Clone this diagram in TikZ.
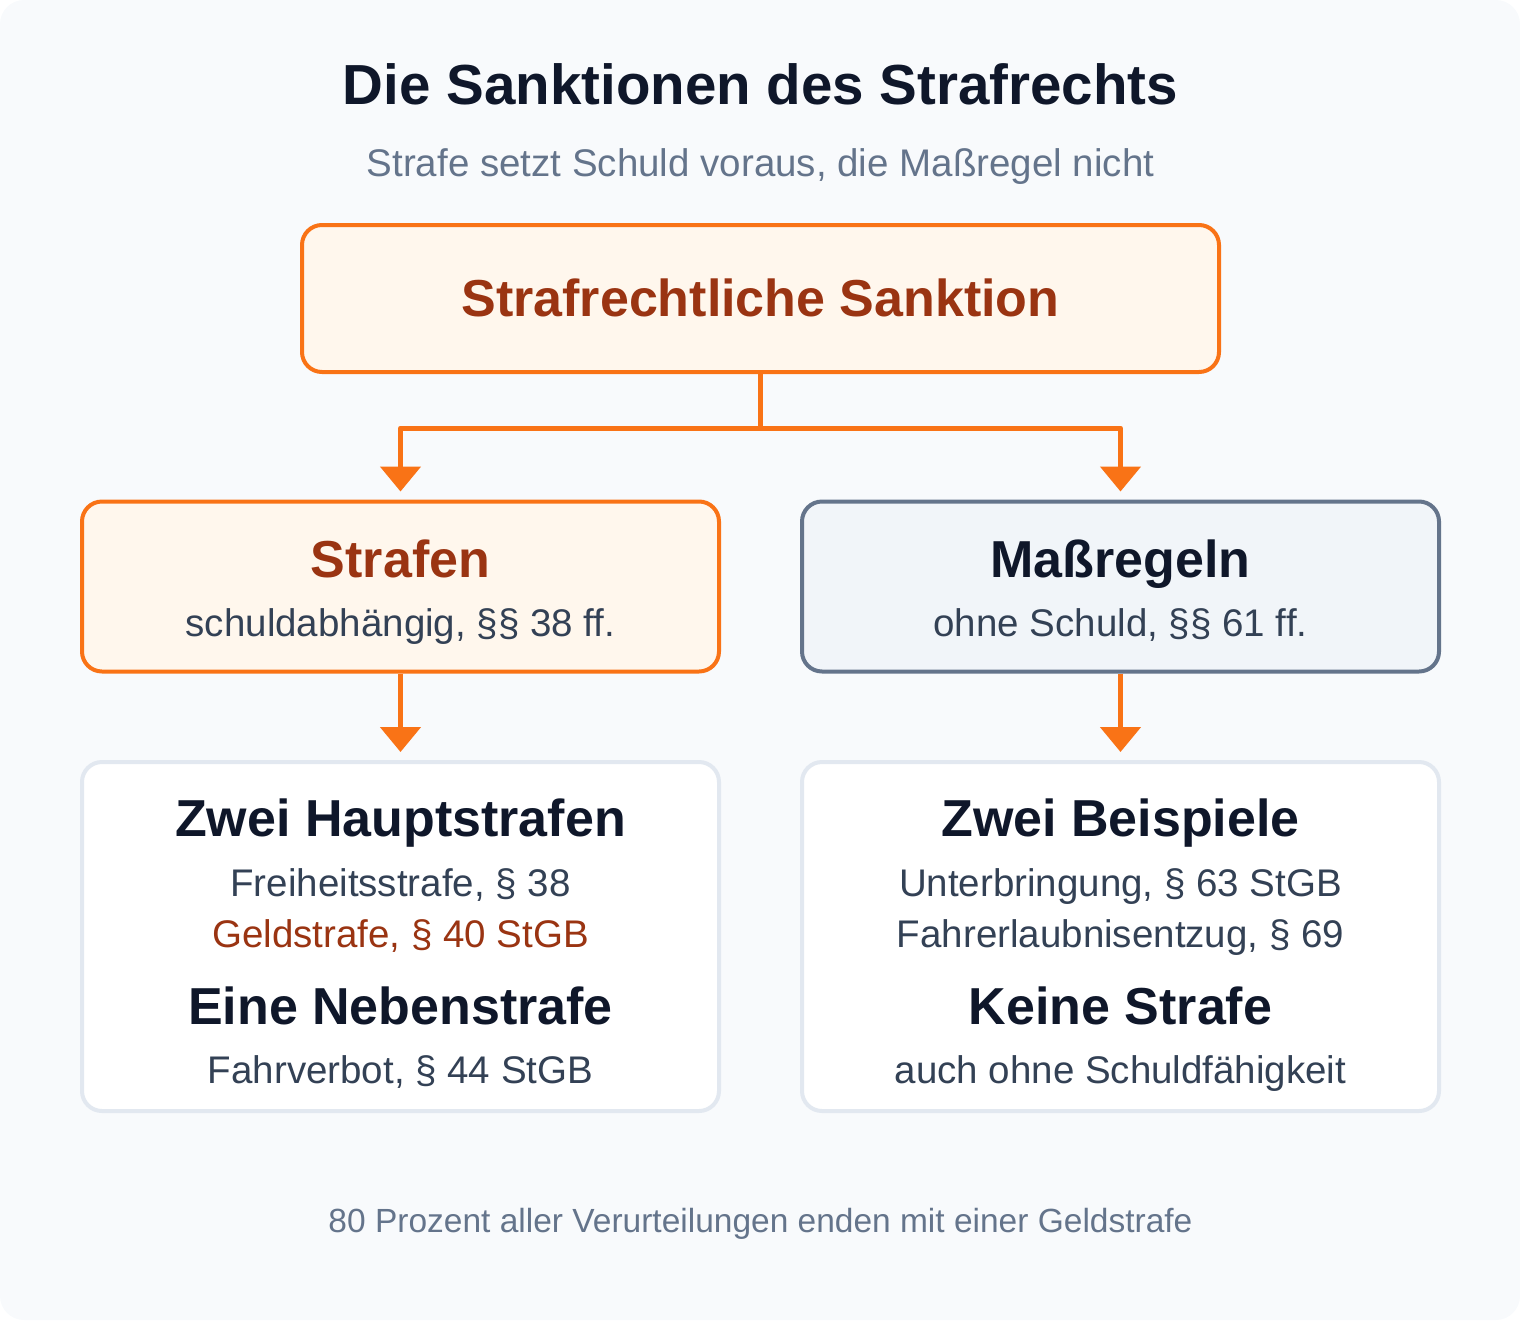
\documentclass[tikz,border=0pt]{standalone}
\usepackage{fontspec}
\setmainfont{Liberation Sans}
\usetikzlibrary{arrows.meta}
\definecolor{bgc}{HTML}{F8FAFC}
\definecolor{orangec}{HTML}{F97316}
\definecolor{orangefill}{HTML}{FFF7ED}
\definecolor{orangetext}{HTML}{9A3412}
\definecolor{slatec}{HTML}{64748B}
\definecolor{slatefill}{HTML}{F1F5F9}
\definecolor{lightborder}{HTML}{E2E8F0}
\definecolor{headc}{HTML}{0F172A}
\definecolor{bodyc}{HTML}{334155}
\tikzset{
  boxbase/.style={rounded corners=20pt, line width=4pt, inner sep=0pt},
  orangebox/.style={boxbase, draw=orangec, fill=orangefill},
  slatebox/.style={boxbase, draw=slatec, fill=slatefill},
  whitebox/.style={boxbase, draw=lightborder, fill=white},
  tbody/.style={anchor=base, inner sep=0pt, font=\fontsize{38.5}{46}\selectfont, text=bodyc},
  thead/.style={anchor=base, inner sep=0pt, font=\bfseries\fontsize{52}{62}\selectfont, text=headc},
  conn/.style={draw=orangec, line width=5pt, line join=round, shorten >=8pt,
    -{Triangle[width=40pt,length=25pt]}, fill=none}
}
\begin{document}
\begin{tikzpicture}[x=1pt,y=-1pt]
\useasboundingbox (0,0) rectangle (1520,1320);
\fill[bgc, rounded corners=24pt] (0,0) rectangle (1520,1320);

% title
\node[anchor=base, inner sep=0pt, font=\bfseries\fontsize{56.5}{68}\selectfont, text=headc] (title) at (760.5,104) {Die Sanktionen des Strafrechts};
\node[anchor=base, inner sep=0pt, font=\fontsize{38.5}{46}\selectfont, text=slatec] (subtitle) at (760.5,176) {Strafe setzt Schuld voraus, die Maßregel nicht};

% boxes
\node[orangebox, minimum width=917pt, minimum height=147pt] (top) at (760.5,298.5) {};
\node[orangebox, minimum width=637pt, minimum height=170pt] (strafen) at (400.5,586.5) {};
\node[slatebox, minimum width=637pt, minimum height=170pt] (massr) at (1120.5,586.5) {};
\node[whitebox, minimum width=637pt, minimum height=349pt] (lbot) at (400.5,936.5) {};
\node[whitebox, minimum width=637pt, minimum height=349pt] (rbot) at (1120.5,936.5) {};

% connectors
\coordinate (jl) at (400.5,428);
\coordinate (jr) at (1120.5,428);
\draw[conn] (top.south) |- (jl) -- (strafen.north);
\draw[conn] (top.south) |- (jr) -- (massr.north);
\draw[conn] (strafen.south) -- (lbot.north);
\draw[conn] (massr.south) -- (rbot.north);

% texts
\node[thead, text=orangetext] (toptext) at (760.5,316) {Strafrechtliche Sanktion};
\node[thead, text=orangetext] (strafentitle) at (400.5,577) {Strafen};
\node[tbody] (strafensub) at (400.5,636) {schuldabhängig, §§ 38 ff.};
\node[thead] (massrtitle) at (1120.5,577) {Maßregeln};
\node[tbody] (massrsub) at (1120.5,636) {ohne Schuld, §§ 61 ff.};

\node[thead] (l1) at (400.5,836) {Zwei Hauptstrafen};
\node[tbody] (l2) at (400.5,896) {Freiheitsstrafe, § 38};
\node[tbody, text=orangetext] (l3) at (400.5,947) {Geldstrafe, § 40 StGB};
\node[thead] (l4) at (400.5,1024) {Eine Nebenstrafe};
\node[tbody] (l5) at (400.5,1083) {Fahrverbot, § 44 StGB};

\node[thead] (r1) at (1120.5,836) {Zwei Beispiele};
\node[tbody] (r2) at (1120.5,896) {Unterbringung, § 63 StGB};
\node[tbody] (r3) at (1120.5,947) {Fahrerlaubnisentzug, § 69};
\node[thead] (r4) at (1120.5,1024) {Keine Strafe};
\node[tbody] (r5) at (1120.5,1083) {auch ohne Schuldfähigkeit};

\node[anchor=base, inner sep=0pt, font=\fontsize{33.5}{40}\selectfont, text=slatec] (footer) at (760.5,1232) {80 Prozent aller Verurteilungen enden mit einer Geldstrafe};
\end{tikzpicture}
\end{document}
